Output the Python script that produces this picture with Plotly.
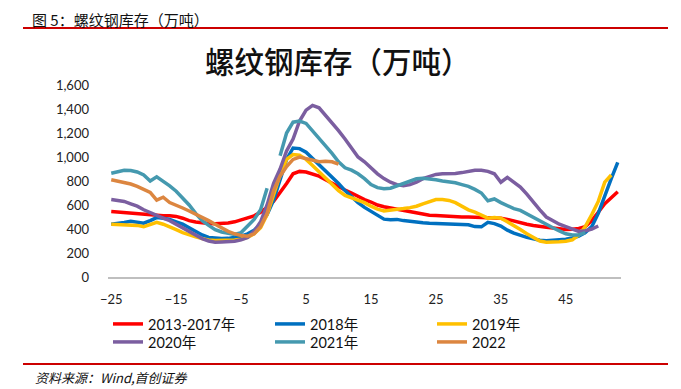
import plotly.graph_objects as go

weeks = list(range(-25, 54))

s_2013_2017 = [545, 540, 535, 530, 525, 520, 515, 512, 510, 510, 505, 490, 470, 458, 450, 445, 443, 445, 450, 460,
               475, 490, 510, 540, 580, 630, 700, 780, 860, 880, 875, 860, 840, 810, 780, 755, 725, 700, 670, 645,
               625, 600, 585, 575, 560, 550, 545, 535, 525, 515, 512, 508, 505, 502, 500, 500, 498, 497, 495, 492,
               490, 480, 465, 450, 440, 430, 420, 415, 408, 400, 395, 398, 405, 420, 470, 540, 610, 660, 710]

s_2018 = [440, 445, 455, 465, 460, 448, 470, 495, 490, 480, 460, 440, 410, 380, 350, 330, 322, 320, 322, 330,
          340, 360, 390, 440, 520, 640, 800, 980, 1075, 1070, 1040, 990, 940, 880, 830, 780, 720, 670, 620, 580,
          545, 510, 482, 478, 480, 470, 462, 458, 452, 448, 445, 443, 440, 440, 438, 435, 420, 418, 455, 445,
          425, 390, 365, 345, 330, 318, 306, 303, 305, 310, 315, 325, 340, 370, 420, 530, 680, 820, 955]

s_2019 = [440, 438, 435, 433, 430, 420, 440, 455, 440, 420, 395, 370, 350, 335, 320, 308, 305, 305, 305, 308,
          315, 330, 360, 410, 520, 680, 850, 980, 1020, 1015, 980, 930, 880, 820, 770, 720, 680, 660, 645, 620,
          590, 565, 550, 555, 565, 570, 578, 590, 610, 630, 645, 645, 638, 620, 590, 560, 540, 515, 490, 495,
          490, 460, 430, 395, 360, 330, 300, 290, 290, 293, 298, 310, 350, 420, 520, 630, 790, 850, None]

s_2020 = [645, 640, 630, 610, 590, 560, 535, 515, 490, 470, 440, 410, 380, 350, 320, 300, 290, 292, 295, 298,
          310, 330, 380, 460, 600, 780, 900, 1050, 1150, 1300, 1390, 1430, 1410, 1350, 1280, 1220, 1150, 1080, 1000, 960,
          910, 860, 820, 790, 770, 760, 770, 790, 820, 840, 855, 860, 860, 862, 870, 880, 890, 890, 880, 860,
          790, 830, 790, 750, 690, 620, 560, 500, 470, 440, 420, 400, 380, 385, 400, 425, None, None, None]

s_2021 = [865, 880, 890, 888, 875, 850, 800, 835, 800, 760, 715, 660, 600, 530, 470, 430, 395, 375, 362, 355,
          370, 420, 480, 560, 740, None, 1010, 1200, 1290, 1300, 1280, 1220, 1160, 1100, 1030, 960, 910, 890, 860, 820,
          770, 745, 735, 740, 760, 785, 805, 818, 822, 818, 810, 800, 795, 785, 770, 755, 730, 700, 635, 650,
          620, 595, 570, 555, 525, 495, 470, 440, 410, 385, 360, 350, 350, 370, None, None, None, None, None]

s_2022 = [810, 800, 790, 775, 755, 730, 705, 640, 665, 620, 600, 575, 550, 525, 495, 470, 440, 410, 380, 360,
          345, 340, 360, 420, 530, 720, 840, 920, 980, 1000, 985, 970, 960, 965, 960, 940]

series_names = ["2013-2017年", "2018年", "2019年", "2020年", "2021年", "2022"]
series_values = [s_2013_2017, s_2018, s_2019, s_2020, s_2021, s_2022]
series_colors = ["#FF0000", "#0070C0", "#FFC000", "#7B5EA0", "#4599AF", "#DC8640"]
series_legend = ["legend", "legend", "legend", "legend2", "legend2", "legend2"]

x_tickvals = [-25, -15, -5, 5, 15, 25, 35, 45]
y_tickvals = [0, 200, 400, 600, 800, 1000, 1200, 1400, 1600]
y_ticktext = ["0", "200", "400", "600", "800", "1,000", "1,200", "1,400", "1,600"]

W, H = 681, 389
OFF = 8  # page body offset
# target plot area in screen pixels: left 108, right 621, top 85, bottom 277
ML = 108 - OFF
MT = 85 - OFF
PW = 621 - 108
PH = 277 - 85
MR = W - ML - PW
MB = H - MT - PH


def px_x(sx):
    return (sx - OFF - ML) / PW


def px_y(sy):
    return (MT + PH - (sy - OFF)) / PH


fig = go.Figure()
for name, vals, col, lg in zip(series_names, series_values, series_colors, series_legend):
    fig.add_trace(go.Scatter(
        x=weeks[:len(vals)], y=vals, name=name, mode="lines", legend=lg,
        line=dict(color=col, width=3.5), connectgaps=False,
    ))

tick_font = dict(family="Lato, 'Noto Sans CJK SC', sans-serif", size=13, color="#222222")
legend_font = dict(family="Lato, 'Noto Sans CJK SC', sans-serif", size=14.5, color="#111111")
cjk = "'Noto Sans CJK SC', sans-serif"

common_legend = dict(
    orientation="h", x=0, xanchor="left", yanchor="top",
    entrywidth=117, entrywidthmode="pixels", itemwidth=30,
    font=legend_font, bgcolor="rgba(0,0,0,0)", tracegroupgap=0,
)

fig.update_layout(
    width=W, height=H, autosize=False,
    margin=dict(l=ML, r=MR, t=MT, b=MB, pad=0, autoexpand=False),
    paper_bgcolor="white", plot_bgcolor="white",
    showlegend=True,
    legend=dict(common_legend, y=px_y(308)),
    legend2=dict(common_legend, y=px_y(326)),
    xaxis=dict(
        range=[-25.5, 53.5], tickmode="array", tickvals=x_tickvals, automargin=False,
        showgrid=False, zeroline=False, showline=True, linecolor="#BFBFBF", linewidth=1.5,
        ticks="", tickfont=tick_font, ticklabelstandoff=10,
    ),
    yaxis=dict(
        range=[0, 1600], tickmode="array", tickvals=y_tickvals, ticktext=y_ticktext, automargin=False,
        showgrid=False, zeroline=False, showline=False, ticks="",
        tickfont=tick_font, ticklabelstandoff=18,
    ),
    annotations=[
        dict(text="螺纹钢库存（万吨）", x=px_x(338), y=px_y(60), xref="paper", yref="paper",
             xanchor="center", yanchor="middle", showarrow=False,
             font=dict(family=cjk, size=29.5, weight=500, color="#111111")),
        dict(text="图 5：螺纹钢库存（万吨）", x=px_x(31), y=px_y(8), xref="paper", yref="paper",
             xanchor="left", yanchor="top", showarrow=False, borderpad=0,
             font=dict(family=cjk, size=15, color="#111111")),
        dict(text="<i>资料来源：Wind,首创证券</i>", x=px_x(33), y=px_y(377), xref="paper", yref="paper",
             xanchor="left", yanchor="middle", showarrow=False,
             font=dict(family=cjk, size=13, color="#111111")),
    ],
    shapes=[
        dict(type="line", xref="paper", yref="paper", x0=px_x(23), x1=px_x(668),
             y0=px_y(28), y1=px_y(28), line=dict(color="#CC0000", width=2)),
        dict(type="line", xref="paper", yref="paper", x0=px_x(23), x1=px_x(668),
             y0=px_y(364), y1=px_y(364), line=dict(color="#CC0000", width=2)),
    ],
)

fig.write_html("out.html")
